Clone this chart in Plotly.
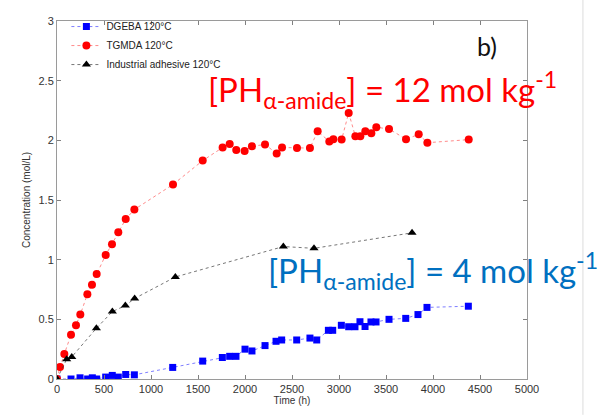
import plotly.graph_objects as go

# DGEBA 120°C
dgeba_t = [0, 149, 245, 326, 376, 422, 518, 588, 652, 731, 823, 1231, 1550, 1759, 1837,
           1904, 2000, 2074, 2213, 2330, 2390, 2550, 2691, 2763, 2887, 2933, 3025, 3103,
           3170, 3223, 3277, 3340, 3394, 3532, 3710, 3840, 3936, 4376]
dgeba_c = [0, 0, 0.01, 0, 0.01, 0, 0.016, 0.03, 0.016, 0.038, 0.035, 0.097, 0.15, 0.18, 0.19,
           0.19, 0.25, 0.235, 0.28, 0.316, 0.327, 0.327, 0.343, 0.327, 0.408, 0.408, 0.45, 0.438,
           0.438, 0.48, 0.44, 0.478, 0.478, 0.50, 0.508, 0.54, 0.60, 0.61]

# TGMDA 120°C
tgmda_t = [0, 32, 78, 149, 202, 248, 323, 372, 422, 518, 585, 652, 731, 823, 1234, 1550,
           1762, 1837, 1907, 1996, 2074, 2213, 2337, 2394, 2553, 2691, 2773, 2897, 2940,
           3028, 3103, 3174, 3227, 3280, 3344, 3397, 3532, 3713, 3848, 3940, 4380]
tgmda_c = [0, 0.10, 0.21, 0.37, 0.45, 0.54, 0.71, 0.79, 0.88, 1.04, 1.13, 1.23, 1.34, 1.42,
           1.63, 1.83, 1.94, 1.97, 1.92, 1.91, 1.95, 1.965, 1.89, 1.94, 1.935, 1.935, 2.076,
           1.99, 2.01, 2.006, 2.23, 2.035, 2.035, 2.076, 2.06, 2.11, 2.095, 2.01, 2.05, 1.98, 2.006]

# Industrial adhesive 120°C
ind_t = [0, 103, 157, 419, 589, 727, 826, 1259, 2408, 2734, 3777]
ind_c = [0, 0.165, 0.185, 0.425, 0.565, 0.615, 0.675, 0.855, 1.11, 1.095, 1.225]

x_ticks = [0, 500, 1000, 1500, 2000, 2500, 3000, 3500, 4000, 4500, 5000]
y_ticks = [0, 0.5, 1, 1.5, 2, 2.5, 3]
y_tick_text = ["0", "0.5", "1", "1.5", "2", "2.5", "3"]

fig = go.Figure()
fig.add_trace(go.Scatter(
    x=dgeba_t, y=dgeba_c, name="DGEBA 120°C", mode="lines+markers",
    line=dict(color="rgba(40,40,255,0.6)", width=1, dash="dot"),
    marker=dict(symbol="square", size=7, color="#0000ff")))
fig.add_trace(go.Scatter(
    x=tgmda_t, y=tgmda_c, name="TGMDA 120°C", mode="lines+markers",
    line=dict(color="rgba(255,60,60,0.6)", width=1, dash="dot"),
    marker=dict(symbol="circle", size=8, color="#ff0000")))
fig.add_trace(go.Scatter(
    x=ind_t, y=ind_c, name="Industrial adhesive 120°C", mode="lines+markers",
    line=dict(color="rgba(60,60,60,0.7)", width=1, dash="dot"),
    marker=dict(symbol="triangle-up", size=8, color="#000000")))

axis_common = dict(
    showgrid=False, zeroline=False, showline=True, mirror="ticks",
    linecolor="#9a9a9a", linewidth=1, ticks="inside", ticklen=4,
    tickcolor="#808080", tickfont=dict(family="Arial", size=11, color="#333333"),
)

fig.update_xaxes(range=[0, 5000], tickvals=x_ticks,
                 title=dict(text="Time (h)", font=dict(family="Arial", size=10, color="#333333"),
                            standoff=2),
                 **axis_common)
fig.update_yaxes(range=[0, 3], tickvals=y_ticks, ticktext=y_tick_text,
                 title=dict(text="Concentration (mol/L)",
                            font=dict(family="Arial", size=10, color="#333333"), standoff=6),
                 **axis_common)

fig.add_annotation(
    xref="paper", yref="paper", x=0.316, y=0.808, xanchor="left", yanchor="middle",
    text="[PH<sub>α-amide</sub>] = 12 mol kg<sup>-1</sup>", showarrow=False,
    font=dict(family="Lato", size=33, color="#ff0000"))
fig.add_annotation(
    xref="paper", yref="paper", x=0.445, y=0.302, xanchor="left", yanchor="middle",
    text="[PH<sub>α-amide</sub>] = 4 mol kg<sup>-1</sup>", showarrow=False,
    font=dict(family="Lato", size=33, color="#0070c0"))
fig.add_annotation(
    xref="paper", yref="paper", x=0.89, y=0.93, xanchor="left", yanchor="middle",
    text="b)", showarrow=False, font=dict(family="Lato", size=25, color="#111111"))

# thin slide divider on the right
fig.add_shape(type="line", xref="paper", yref="paper", x0=1.119, x1=1.119,
              y0=-0.1, y1=1.1, line=dict(color="#dcdcdc", width=1))

fig.update_layout(
    width=609, height=416,
    margin=dict(l=57, r=82, t=13, b=33),
    plot_bgcolor="white", paper_bgcolor="white",
    showlegend=True,
    legend=dict(x=0.02, y=1.025, xanchor="left", yanchor="top",
                bgcolor="rgba(0,0,0,0)", font=dict(family="Arial", size=10, color="#222222"),
                tracegroupgap=0),
)

fig.write_html("out.html")
